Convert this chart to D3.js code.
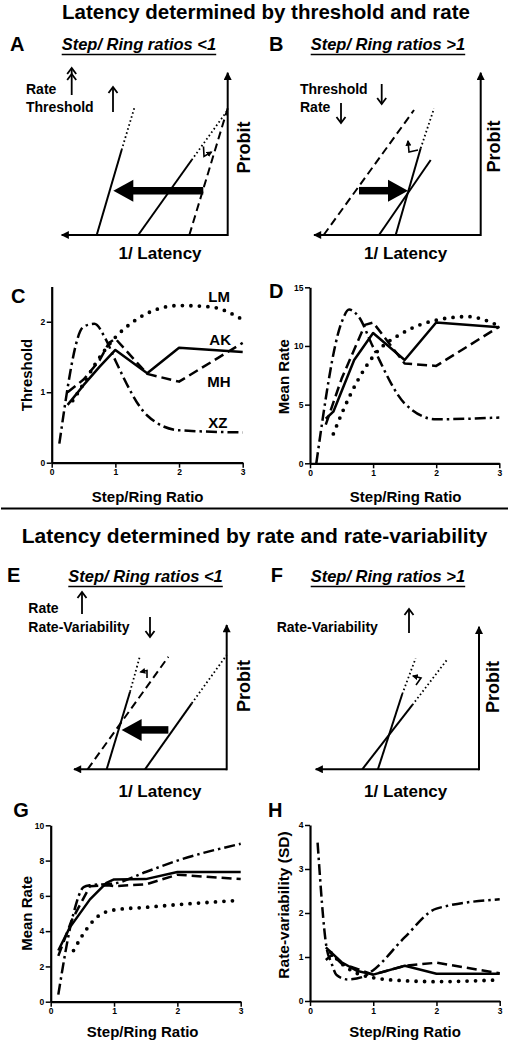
<!DOCTYPE html>
<html><head><meta charset="utf-8">
<script src="https://cdnjs.cloudflare.com/ajax/libs/d3/7.8.5/d3.min.js"></script>
<style>
html,body{margin:0;padding:0;background:#fff;}
svg{display:block;background:#fff;}
text{font-family:"Liberation Sans",Arial,Helvetica,sans-serif;font-weight:bold;fill:#000;}
</style></head><body>
<svg id="fig" width="514" height="1050"></svg>
<script>
// ---------------- DATA ----------------
const ratioTicks = [0, 1, 2, 3];
const subjects = ["LM", "AK", "MH", "XZ"];
const thresholdTicks = [0, 1, 2];
const meanRateTicksD = [0, 5, 10, 15];
const meanRateTicksG = [0, 2, 4, 6, 8, 10];
const sdTicks = [0, 1, 2, 3, 4];

// Panel C: threshold vs step/ring ratio
const thresholdLM = [[0.33,0.88],[0.5,1.12],[0.67,1.38],[1,1.78],[1.25,1.98],[1.5,2.12],[2,2.23],[2.5,2.21],[3,2.03]];
const thresholdAK = [[0.25,0.82],[0.5,1.1],[0.75,1.36],[1,1.6],[1.5,1.27],[2,1.63],[3,1.57]];
const thresholdMH = [[0.25,1.0],[0.5,1.18],[0.75,1.45],[0.9,1.7],[1,1.76],[1.5,1.26],[2,1.15],[3,1.7]];
const thresholdXZ = [[0.12,0.27],[0.5,1.93],[0.67,1.97],[0.85,1.75],[1,1.45],[1.5,0.67],[2,0.46],[3,0.43]];

// Panel D: mean rate
const rateD_LM = [[0.37,2.5],[0.5,4.2],[0.75,7.0],[1,9.1],[1.5,11.2],[2,12.2],[2.5,12.5],[3,11.7]];
const rateD_AK = [[0.25,3.8],[0.37,4.4],[0.7,8.8],[1,11.1],[1.5,8.8],[2,12.0],[3,11.6]];
const rateD_MH = [[0.25,3.3],[0.5,7.2],[0.87,11.8],[1,12.0],[1.5,8.5],[2,8.3],[3,11.65]];
const rateD_XZ = [[0.1,0],[0.5,12.0],[0.62,13.1],[0.77,12.5],[1,9.9],[1.5,5.1],[2,3.75],[3,3.9]];

// Panel G: mean rate
const rateG_LM = [[0.36,2.9],[0.49,3.7],[0.65,4.5],[0.75,4.85],[1,5.2],[1.5,5.35],[2,5.5],[3,5.75]];
const rateG_AK = [[0.12,2.9],[0.3,4.2],[0.62,5.8],[0.88,6.74],[1,6.93],[1.5,6.95],[2,7.35],[3,7.35]];
const rateG_MH = [[0.12,2.6],[0.33,4.6],[0.62,6.55],[0.9,6.6],[1,6.55],[1.5,6.65],[2,7.2],[3,6.95]];
const rateG_XZ = [[0.12,0.4],[0.36,5.0],[0.52,6.5],[0.62,6.6],[1,6.7],[1.5,7.35],[2,8.0],[3,8.95]];

// Panel H: rate-variability (SD)
const sdLM = [[0.33,1.1],[0.5,0.85],[0.67,0.68],[1,0.53],[1.5,0.46],[2,0.44],[3,0.48]];
const sdAK = [[0.25,1.22],[0.5,0.88],[0.75,0.68],[1,0.6],[1.5,0.8],[2,0.62],[3,0.62]];
const sdMH = [[0.25,0.93],[0.35,1.05],[0.5,0.85],[1,0.6],[1.5,0.8],[2,0.87],[3,0.63]];
const sdXZ = [[0.12,3.6],[0.26,1.23],[0.34,0.86],[0.42,0.59],[0.6,0.49],[0.84,0.55],[1,0.7],[1.5,1.45],[2,2.1],[3,2.31]];

// Schematic panels (unit coords: x 0=left arrow tip .. 1=vertical axis; y 0=horizontal axis .. 1=top arrow tip)
const schemA_solid  = [[[0.211,0],[0.361,0.524]], [[0.461,0],[0.783,0.462]]];
const schemA_dotted = [[[0.361,0.524],[0.437,0.781]], [[0.783,0.462],[1.0,0.770]]];
const schemA_dashed = [[[0.769,0],[1.0,0.781]]];
const schemA_shift  = [[0.853,0.273],[0.311,0.273]];

const schemB_solid  = [[[0.49,0],[0.64,0.534]], [[0.39,0],[0.70,0.462]]];
const schemB_dotted = [[[0.64,0.534],[0.72,0.78]]];
const schemB_dashed = [[[0.058,0],[0.60,0.77]]];
const schemB_shift  = [[0.27,0.273],[0.564,0.273]];

const schemE_solid  = [[[0.214,0],[0.367,0.538]], [[0.465,0],[0.771,0.457]]];
const schemE_dotted = [[[0.367,0.538],[0.432,0.785]], [[0.771,0.457],[1.0,0.792]]];
const schemE_dashed = [[[0.089,0],[0.618,0.78]]];
const schemE_shift  = [[0.618,0.273],[0.312,0.273]];

const schemF_solid  = [[[0.381,0],[0.53,0.528]], [[0.285,0],[0.592,0.451]]];
const schemF_dotted = [[[0.53,0.528],[0.612,0.778]], [[0.592,0.451],[0.806,0.771]]];
const schemF_dashed = [];
const schemF_shift  = null;

// ---------------- DRAWING ----------------
const svg = d3.select("#fig");
svg.append("rect").attr("width",514).attr("height",1050).attr("fill","#fff");
const defs = svg.append("defs");
defs.append("marker").attr("id","tri").attr("viewBox","0 0 10 10").attr("refX",9).attr("refY",5)
  .attr("markerWidth",10).attr("markerHeight",8).attr("markerUnits","userSpaceOnUse").attr("orient","auto")
  .append("path").attr("d","M0,0L10,5L0,10Z").attr("fill","#000");
defs.append("marker").attr("id","tiny").attr("viewBox","0 0 10 10").attr("refX",8).attr("refY",5)
  .attr("markerWidth",6).attr("markerHeight",6).attr("markerUnits","userSpaceOnUse").attr("orient","auto")
  .append("path").attr("d","M0,0L10,5L0,10Z").attr("fill","#000");

function txt(x,y,s,size,opts={}){
  const t = svg.append("text").attr("x",x).attr("y",y).attr("font-size",size).text(s);
  if(opts.anchor) t.attr("text-anchor",opts.anchor);
  if(opts.italic) t.attr("font-style","italic");
  if(opts.rotate){ t.attr("x",0).attr("y",0).attr("transform",`translate(${x},${y}) rotate(-90)`); }
  return t;
}
function underlined(x,y,s,size){
  const t = txt(x,y,s,size,{italic:true});
  const w = t.node().getComputedTextLength();
  svg.append("line").attr("x1",x).attr("x2",x+w).attr("y1",y+4.5).attr("y2",y+4.5).attr("stroke","#000").attr("stroke-width",1.6);
}
function vArrow(x,yFrom,yTo,double){
  const g = svg.append("g").attr("stroke","#000").attr("stroke-width",1.8).attr("fill","none");
  g.append("line").attr("x1",x).attr("x2",x).attr("y1",yFrom).attr("y2",yTo);
  const dir = yTo < yFrom ? 1 : -1;
  const head = (yt)=> g.append("path").attr("d",`M${x-4.5},${yt+dir*6}L${x},${yt}L${x+4.5},${yt+dir*6}`);
  head(yTo);
  if(double) head(yTo+dir*6);
}

// Titles
txt(266,19,"Latency determined by threshold and rate",20.5,{anchor:"middle"});
txt(254.5,543,"Latency determined by rate and rate-variability",21,{anchor:"middle"});
svg.append("line").attr("x1",1).attr("x2",508).attr("y1",508.5).attr("y2",508.5).attr("stroke","#000").attr("stroke-width",2);

// schematic
function schematic(cfg){
  const x = d3.scaleLinear().domain([0,1]).range([cfg.left, cfg.right]);
  const y = d3.scaleLinear().domain([0,1]).range([cfg.bottom, cfg.top]);
  const ax = svg.append("g").attr("stroke","#000").attr("stroke-width",2);
  ax.append("line").attr("x1",x(1)).attr("y1",y(0)).attr("x2",x(0)).attr("y2",y(0)).attr("marker-end","url(#tri)");
  ax.append("line").attr("x1",x(1)).attr("y1",y(0)+1).attr("x2",x(1)).attr("y2",y(1)).attr("marker-end","url(#tri)");
  const line = d3.line().x(d=>x(d[0])).y(d=>y(d[1]));
  const g = svg.append("g").attr("fill","none").attr("stroke","#000");
  cfg.solid.forEach(s=> g.append("path").attr("d",line(s)).attr("stroke-width",2));
  cfg.dotted.forEach(s=> g.append("path").attr("d",line(s)).attr("stroke-width",1.8).attr("stroke-dasharray","1.6,2.6"));
  cfg.dashed.forEach(s=> g.append("path").attr("d",line(s)).attr("stroke-width",2).attr("stroke-dasharray","8,4.5"));
  if(cfg.shift){
    const [s,t] = cfg.shift.map(p=>[x(p[0]),y(p[1])]);
    const len = Math.hypot(t[0]-s[0],t[1]-s[1]); const ux=(t[0]-s[0])/len, uy=(t[1]-s[1])/len;
    const hl=20, hw=11; const bx=t[0]-ux*hl, by=t[1]-uy*hl;
    svg.append("line").attr("x1",s[0]).attr("y1",s[1]).attr("x2",bx+ux*2).attr("y2",by+uy*2).attr("stroke","#000").attr("stroke-width",7.5);
    svg.append("path").attr("d",`M${t[0]},${t[1]}L${bx-uy*hw},${by+ux*hw}L${bx+uy*hw},${by-ux*hw}Z`).attr("fill","#000");
  }
  svg.append("path").attr("d",cfg.hook).attr("fill","none").attr("stroke","#000").attr("stroke-width",1.6).attr("marker-end","url(#tiny)");
}

schematic({left:61.7,right:227.7,bottom:235,top:72.7,solid:schemA_solid,dotted:schemA_dotted,dashed:schemA_dashed,shift:schemA_shift,
  hook:"M203.5,146.5L204,156.5L211.5,152"});
schematic({left:314,right:480.7,bottom:235,top:72.7,solid:schemB_solid,dotted:schemB_dotted,dashed:schemB_dashed,shift:schemB_shift,
  hook:"M418,150L409,152L408,141"});
schematic({left:74,right:226.7,bottom:769.3,top:625,solid:schemE_solid,dotted:schemE_dotted,dashed:schemE_dashed,shift:schemE_shift,
  hook:"M147,678L147,670.5L140.5,672"});
schematic({left:315.7,right:479,bottom:769.3,top:626.7,solid:schemF_solid,dotted:schemF_dotted,dashed:schemF_dashed,shift:schemF_shift,
  hook:"M416,685L421,678L413,676"});

// schematic labels
txt(10,51,"A",20); txt(269,51,"B",20); txt(7,582,"E",20); txt(270.7,582,"F",20);
underlined(61.7,50,"Step/ Ring ratios <1",16.5);
underlined(310.7,50,"Step/ Ring ratios >1",16.5);
underlined(68.3,582,"Step/ Ring ratios <1",16.5);
underlined(310.7,582,"Step/ Ring ratios >1",16.5);
txt(26,94.3,"Rate",14); txt(26,112.3,"Threshold",14);
vArrow(71.7,95,68,true); vArrow(113,112,87);
txt(300,94.3,"Threshold",14); txt(300,112.3,"Rate",14);
vArrow(381.7,84,104); vArrow(341,103,123);
txt(28.3,613.3,"Rate",14); txt(28.3,631.7,"Rate-Variability",14);
vArrow(82,614,592); vArrow(150,617,637);
txt(276.7,631.7,"Rate-Variability",14);
vArrow(409,633,609);
txt(250,147.5,"Probit",18,{rotate:true,anchor:"middle"});
txt(499.7,146.5,"Probit",18,{rotate:true,anchor:"middle"});
txt(250,686,"Probit",18,{rotate:true,anchor:"middle"});
txt(499,687,"Probit",18,{rotate:true,anchor:"middle"});
txt(160,258.5,"1/ Latency",17,{anchor:"middle"});
txt(405.7,258.5,"1/ Latency",17,{anchor:"middle"});
txt(160,797.3,"1/ Latency",17,{anchor:"middle"});
txt(405.7,797.3,"1/ Latency",17,{anchor:"middle"});

// line charts
const seriesStyle = {
  AK:{w:2.5,dash:null,curve:d3.curveLinear},
  MH:{w:2.5,dash:"10,5",curve:d3.curveLinear},
  LM:{w:3.8,dash:"0,8.5",cap:"round",curve:d3.curveMonotoneX},
  XZ:{w:2.5,dash:"11,4,2.5,4",curve:d3.curveMonotoneX}
};
function lineChart(cfg){
  const x = d3.scaleLinear().domain([0,3]).range([cfg.x0,cfg.x1]);
  const y = d3.scaleLinear().domain(cfg.yDomain).range([cfg.y0,cfg.y1]);
  const gx = svg.append("g").attr("transform",`translate(0,${cfg.y0})`)
    .call(d3.axisBottom(x).tickValues(ratioTicks).tickSize(5).tickPadding(1.5).tickSizeOuter(0).tickFormat(d3.format("d")));
  const gy = svg.append("g").attr("transform",`translate(${cfg.x0},0)`)
    .call(d3.axisLeft(y).tickValues(cfg.yTicks).tickSize(5).tickPadding(1.5).tickSizeOuter(0).tickFormat(d3.format("d")));
  [gx,gy].forEach(g=>{
    g.select(".domain").attr("stroke-width",2.2);
    g.selectAll(".tick line").attr("stroke-width",1.5);
    g.selectAll(".tick text").attr("font-size",8.5).attr("font-weight","bold").attr("font-family",'"Liberation Sans",Arial,sans-serif');
  });
  const g = svg.append("g").attr("fill","none").attr("stroke","#000");
  cfg.series.forEach(([name,data])=>{
    const st = seriesStyle[name];
    const line = d3.line().x(d=>x(d[0])).y(d=>y(d[1])).curve(st.curve);
    const p = g.append("path").attr("d",line(data)).attr("stroke-width",st.w).attr("stroke-linejoin","round");
    if(st.dash) p.attr("stroke-dasharray",st.dash);
    if(st.cap) p.attr("stroke-linecap",st.cap);
  });
  return {x,y};
}

lineChart({x0:51.7,x1:242.7,y0:462.7,y1:286.5,yDomain:[0,2.5],yTicks:thresholdTicks,
  series:[["LM",thresholdLM],["AK",thresholdAK],["MH",thresholdMH],["XZ",thresholdXZ]]});
lineChart({x0:310,x1:499.3,y0:463.3,y1:287.3,yDomain:[0,15],yTicks:meanRateTicksD,
  series:[["LM",rateD_LM],["AK",rateD_AK],["MH",rateD_MH],["XZ",rateD_XZ]]});
lineChart({x0:50.7,x1:240.7,y0:1001.7,y1:825.3,yDomain:[0,10],yTicks:meanRateTicksG,
  series:[["LM",rateG_LM],["AK",rateG_AK],["MH",rateG_MH],["XZ",rateG_XZ]]});
lineChart({x0:310,x1:499.7,y0:1001,y1:825,yDomain:[0,4],yTicks:sdTicks,
  series:[["LM",sdLM],["AK",sdAK],["MH",sdMH],["XZ",sdXZ]]});

// chart labels
txt(11,303,"C",20); txt(269,298.3,"D",20); txt(13.3,817.3,"G",20); txt(268,817.3,"H",20);
txt(31.7,375,"Threshold",15,{rotate:true,anchor:"middle"});
txt(289,376.7,"Mean Rate",15,{rotate:true,anchor:"middle"});
txt(31.7,913.3,"Mean Rate",15,{rotate:true,anchor:"middle"});
txt(288.5,905,"Rate-variability (SD)",15.5,{rotate:true,anchor:"middle"});
txt(147.7,501.7,"Step/Ring Ratio",15,{anchor:"middle"});
txt(405.7,501.7,"Step/Ring Ratio",15,{anchor:"middle"});
txt(142.7,1036.7,"Step/Ring Ratio",15,{anchor:"middle"});
txt(405,1036.7,"Step/Ring Ratio",15,{anchor:"middle"});
const labelPos = {LM:[208.3,302.3],AK:[209.3,345],MH:[207.3,387.3],XZ:[208.3,427.5]};
subjects.forEach(s=> txt(labelPos[s][0],labelPos[s][1],s,15));
</script></body></html>
